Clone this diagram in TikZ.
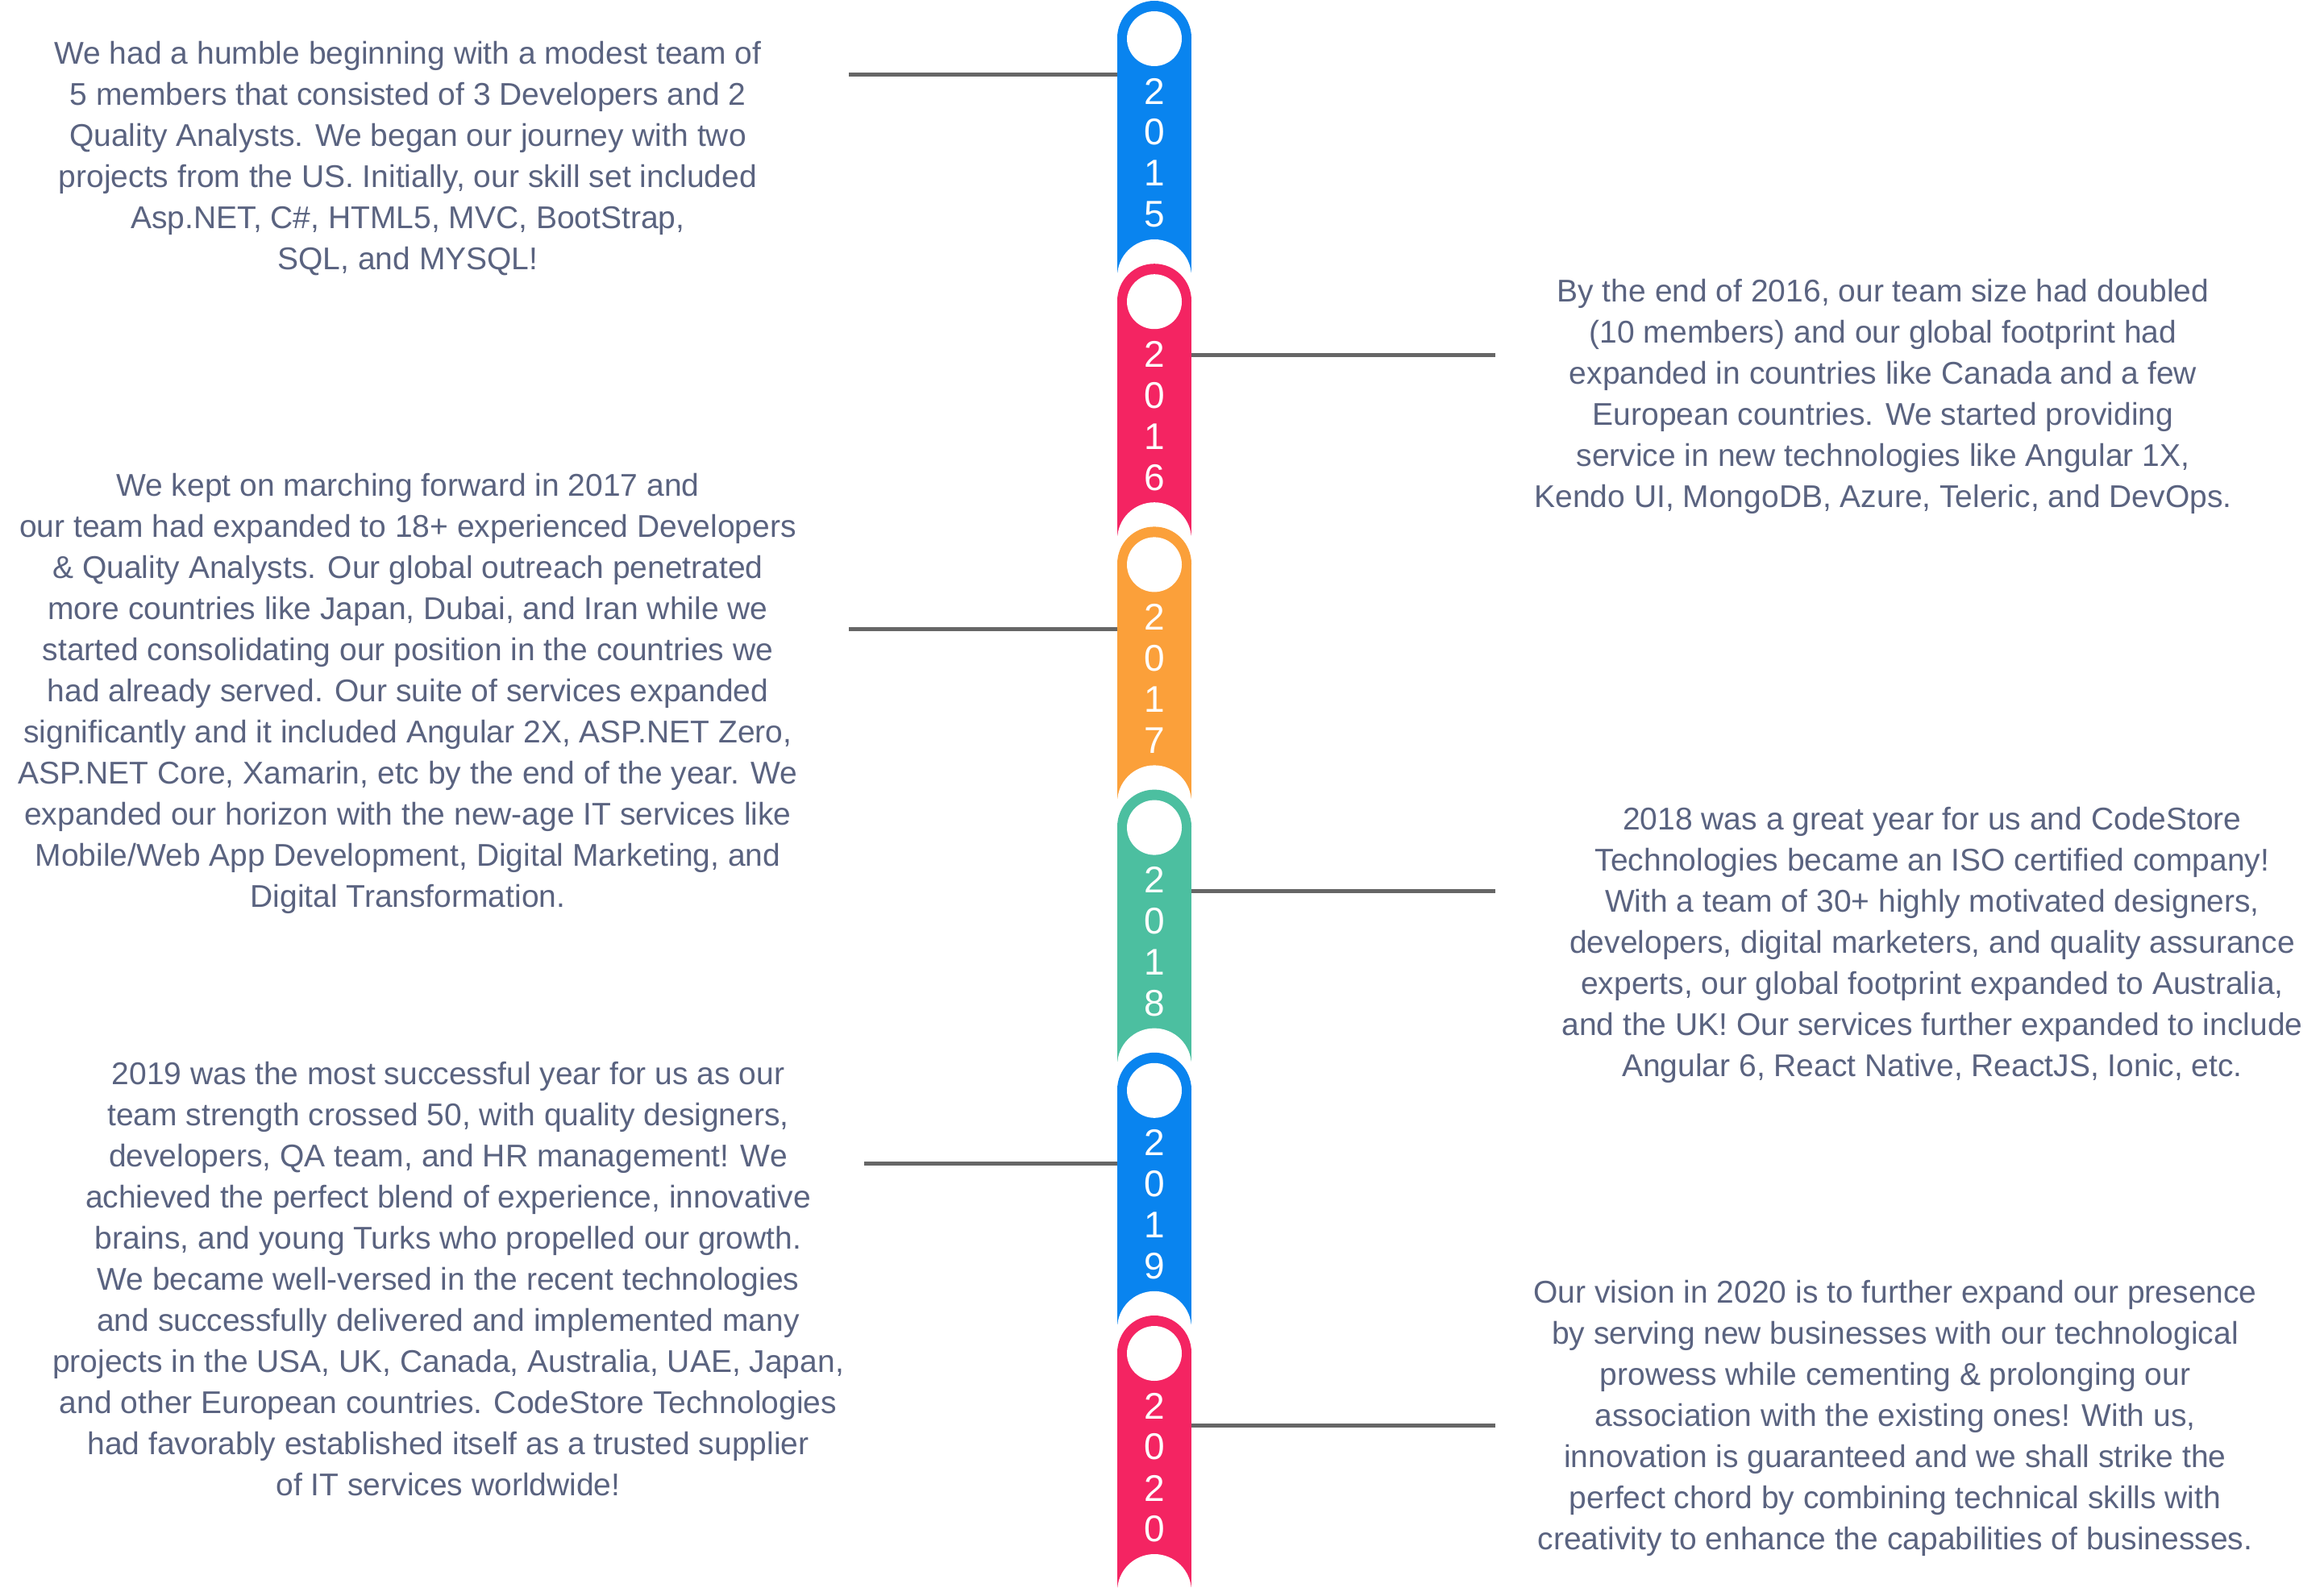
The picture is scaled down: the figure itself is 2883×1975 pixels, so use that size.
\documentclass[tikz,border=0pt]{standalone}
\usepackage{fontspec}
\setmainfont{Liberation Sans}
\definecolor{cblue}{HTML}{0984EF}
\definecolor{cpink}{HTML}{F42462}
\definecolor{corange}{HTML}{FBA03A}
\definecolor{cteal}{HTML}{4CBFA0}
\definecolor{ctext}{HTML}{5A6380}
\definecolor{cline}{HTML}{666666}
\begin{document}
\begin{tikzpicture}[x=1pt,y=-1pt,
  para/.style={align=center,text=ctext,font=\fontsize{39}{51}\selectfont,inner sep=0pt},
  conn/.style={draw=cline,line width=5pt},
  digit/.style={text=white,font=\fontsize{46}{46}\selectfont,inner sep=0pt}]
\useasboundingbox (0,0) rectangle (2883,1975);
% connectors
\coordinate (l15) at (1053,92);
\coordinate (p15) at (1400,92);
\coordinate (r16) at (1855,440);
\coordinate (p16) at (1460,440);
\coordinate (l17) at (1053,780);
\coordinate (p17) at (1400,780);
\coordinate (r18) at (1855,1105);
\coordinate (p18) at (1460,1105);
\coordinate (l19) at (1072,1443);
\coordinate (p19) at (1400,1443);
\coordinate (r20) at (1855,1768);
\coordinate (p20) at (1460,1768);
\draw[conn] (l15) -- (p15);
\draw[conn] (p16) -- (r16);
\draw[conn] (l17) -- (p17);
\draw[conn] (p18) -- (r18);
\draw[conn] (l19) -- (p19);
\draw[conn] (p20) -- (r20);
% pills
\foreach \i/\col/\ya/\yb/\yc/\yd in {0/cblue/2/0/1/5,1/cpink/2/0/1/6,2/corange/2/0/1/7,3/cteal/2/0/1/8,4/cblue/2/0/1/9,5/cpink/2/0/2/0}{
  \pgfmathsetmacro{\top}{1+326.2*\i}
  \pgfmathsetmacro{\bot}{\top+342}
  \fill[\col] (1386,\top+46) rectangle (1478,\bot);
  \fill[\col] (1432,\top+46) circle (46);
  \fill[white] (1432,\top+47) circle (34);
  \fill[white] (1432,\bot) circle (46);
  \node[digit] at (1432,\top+112) {\ya};
  \node[digit] at (1432,\top+163) {\yb};
  \node[digit] at (1432,\top+214) {\yc};
  \node[digit] at (1432,\top+265) {\yd};
}
% texts
\node[para] (t15) at (506,197) {We had a humble beginning with a modest team of\\5 members that consisted of 3 Developers and 2\\Quality Analysts. We began our journey with two\\projects from the US. Initially, our skill set included\\Asp.NET, C\#, HTML5, MVC, BootStrap,\\SQL, and MYSQL!};
\node[para] (t16) at (2336,492) {By the end of 2016, our team size had doubled\\(10 members) and our global footprint had\\expanded in countries like Canada and a few\\European countries. We started providing\\service in new technologies like Angular 1X,\\Kendo UI, MongoDB, Azure, Teleric, and DevOps.};
\node[para] (t17) at (506,860) {We kept on marching forward in 2017 and\\our team had expanded to 18+ experienced Developers\\\& Quality Analysts. Our global outreach penetrated\\more countries like Japan, Dubai, and Iran while we\\started consolidating our position in the countries we\\had already served. Our suite of services expanded\\significantly and it included Angular 2X, ASP.NET Zero,\\ASP.NET Core, Xamarin, etc by the end of the year. We\\expanded our horizon with the new-age IT services like\\Mobile/Web App Development, Digital Marketing, and\\Digital Transformation.};
\node[para] (t18) at (2397,1172) {2018 was a great year for us and CodeStore\\Technologies became an ISO certified company!\\With a team of 30+ highly motivated designers,\\developers, digital marketers, and quality assurance\\experts, our global footprint expanded to Australia,\\and the UK! Our services further expanded to include\\Angular 6, React Native, ReactJS, Ionic, etc.};
\node[para] (t19) at (556,1587) {2019 was the most successful year for us as our\\team strength crossed 50, with quality designers,\\developers, QA team, and HR management! We\\achieved the perfect blend of experience, innovative\\brains, and young Turks who propelled our growth.\\We became well-versed in the recent technologies\\and successfully delivered and implemented many\\projects in the USA, UK, Canada, Australia, UAE, Japan,\\and other European countries. CodeStore Technologies\\had favorably established itself as a trusted supplier\\of IT services worldwide!};
\node[para] (t20) at (2351,1759) {Our vision in 2020 is to further expand our presence\\by serving new businesses with our technological\\prowess while cementing \& prolonging our\\association with the existing ones! With us,\\innovation is guaranteed and we shall strike the\\perfect chord by combining technical skills with\\creativity to enhance the capabilities of businesses.};
\end{tikzpicture}
\end{document}
